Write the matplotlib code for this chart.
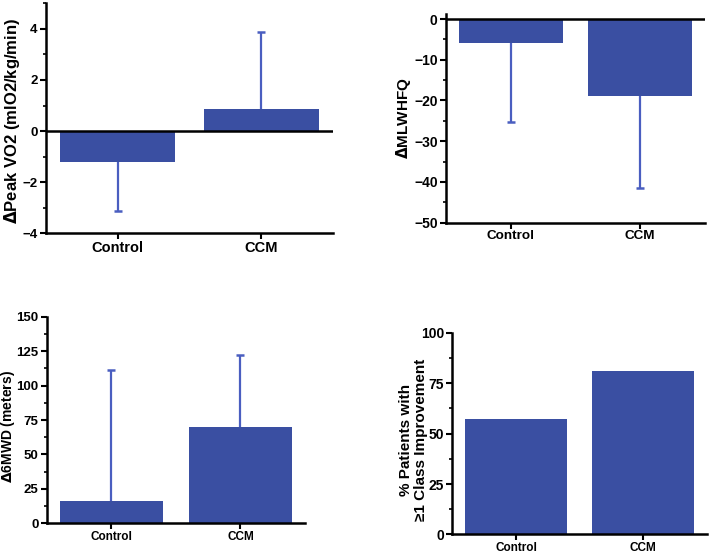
import matplotlib
matplotlib.use("Agg")
import matplotlib.pyplot as plt
from matplotlib.ticker import AutoMinorLocator, MultipleLocator

plt.rcParams['font.family'] = ['Liberation Sans', 'DejaVu Sans']
plt.rcParams['font.weight'] = 'bold'

groups = ['Control', 'CCM']

# change in peak VO2, mean and one-sided SD
vo2 = [-1.2, 0.85]
vo2_sd = [1.95, 3.05]
# change in MLWHFQ score
mlwhfq = [-5.8, -19.0]
mlwhfq_sd = [19.4, 22.4]
# change in 6 minute walk distance
walk = [16.2, 70.2]
walk_sd = [95.2, 51.9]
# % patients with >=1 NYHA class improvement
nyha = [57.1, 80.9]

bar_col = '#3A4FA2'
err_col = '#4A5EC0'


def panel(rect, vals, sd, ylim, major, ylabel, lab_xy, lab_size, tick_size, xtick_size, zero_line=False):
    ax = fig.add_axes(rect)
    x = list(range(len(groups)))
    ax.bar(x, vals, width=0.8, color=bar_col, edgecolor='none', zorder=2)
    if sd is not None:
        # error bars only on the far side of each bar
        ends = [v - s if v < 0 else v + s for v, s in zip(vals, sd)]
        ax.vlines(x, vals, ends, color=err_col, lw=1.6, zorder=1)
        ax.plot(x, ends, ls='none', marker='_', ms=6, mew=1.8, color=err_col, zorder=1)
    if zero_line:
        ax.axhline(0, color='black', lw=1.8, zorder=3)
    ax.set_xlim(-0.5, 1.5)
    ax.set_ylim(*ylim)
    ax.yaxis.set_major_locator(MultipleLocator(major))
    ax.yaxis.set_minor_locator(AutoMinorLocator(2))
    ax.set_xticks(x)
    ax.set_xticklabels(groups, fontsize=xtick_size, fontweight='bold')
    for lab in ax.get_yticklabels():
        lab.set_fontsize(tick_size)
        lab.set_fontweight('bold')
    ax.spines['top'].set_visible(False)
    ax.spines['right'].set_visible(False)
    ax.spines['left'].set_linewidth(1.8)
    ax.spines['bottom'].set_linewidth(1.8)
    ax.tick_params(axis='both', which='major', length=4, width=1.5, pad=2)
    ax.tick_params(axis='x', pad=1.5)
    ax.tick_params(axis='y', which='minor', length=2.5, width=1.2)
    ax.set_ylabel(ylabel, fontsize=lab_size, fontweight='bold', linespacing=1.1)
    ax.yaxis.set_label_coords(*lab_xy)
    return ax


fig = plt.figure(figsize=(7.09, 5.54), dpi=100)

panel([0.0649, 0.5794, 0.4048, 0.4143], vo2, vo2_sd, (-4, 5), 2,
      r'$\Delta$Peak VO2 (mlO2/kg/min)', (-0.084, 0.49), 12, 9.5, 10.5, zero_line=True)
panel([0.629, 0.598, 0.3653, 0.3765], mlwhfq, mlwhfq_sd, (-50, 1.2), 10,
      r'$\Delta$MLWHFQ', (-0.128, 0.5), 11, 10, 9.7, zero_line=True)
panel([0.0659, 0.0554, 0.3643, 0.3729], walk, walk_sd, (0, 150), 25,
      r'$\Delta$6MWD (meters)', (-0.115, 0.47), 10, 9.5, 8.5)
panel([0.638, 0.0352, 0.3592, 0.3642], nyha, None, (0, 100), 25,
      '% Patients with\n≥1 Class Improvement', (-0.095, 0.47), 11, 10, 8.5)

fig.savefig('out.png', dpi=100)
